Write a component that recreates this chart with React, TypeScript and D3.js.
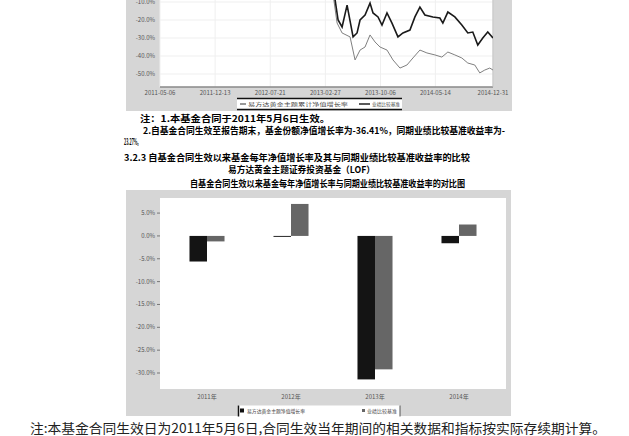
import { useMemo } from 'react';
import * as d3 from 'd3';

// bar chart: yearly net value growth vs benchmark (%)
const barYears = ['2011年', '2012年', '2013年', '2014年'];
const fundReturns = [-5.6, -0.2, -31.4, -1.6];
const benchReturns = [-1.2, 7.0, -29.2, 2.5];
const barTicks = [5, 0, -5, -10, -15, -20, -25, -30];

// line chart: cumulative growth (%)
const upperDates = [
	'2011-05-06', '2011-09-01', '2012-01-01', '2012-09-01', '2013-02-15', '2013-03-30',
	'2013-04-07', '2013-04-19', '2013-05-05', '2013-05-25', '2013-06-18', '2013-07-04',
	'2013-07-16', '2013-08-05', '2013-08-25', '2013-09-06', '2013-09-26', '2013-10-12',
	'2013-11-01', '2013-11-21', '2013-12-15', '2014-01-04', '2014-02-01', '2014-02-21',
	'2014-03-13', '2014-04-02', '2014-05-04', '2014-06-01', '2014-06-13', '2014-07-03',
	'2014-07-31', '2014-08-28', '2014-09-21', '2014-10-11', '2014-10-31', '2014-11-20',
	'2014-12-10', '2014-12-31',
];
const upperValues = [
	0, 6, -2, 3, -4, -5,
	-8.9, -20.0, -23.9, -11.7, -29.4, -27.2,
	-20.0, -17.2, -10.6, -16.1, -18.3, -22.8,
	-16.1, -21.7, -29.4, -27.2, -25.6, -18.3,
	-12.8, -17.2, -18.3, -18.9, -21.7, -15.6,
	-18.3, -22.8, -27.2, -26.7, -33.9, -30.0,
	-26.7, -30.0,
];
const lowerDates = [
	'2011-05-06', '2011-09-01', '2012-01-01', '2012-09-01', '2013-02-15', '2013-04-01',
	'2013-04-15', '2013-05-05', '2013-06-06', '2013-06-26', '2013-07-16', '2013-08-05',
	'2013-08-25', '2013-09-14', '2013-10-04', '2013-11-01', '2013-11-25', '2013-12-23',
	'2014-01-20', '2014-02-13', '2014-03-13', '2014-04-10', '2014-05-12', '2014-06-09',
	'2014-07-03', '2014-07-31', '2014-08-28', '2014-09-21', '2014-10-19', '2014-11-08',
	'2014-11-28', '2014-12-18', '2014-12-31',
];
const lowerValues = [
	0, 4, -6, -3, -7, -8,
	-21.7, -27.2, -29.4, -42.2, -36.7, -35.0,
	-28.3, -32.2, -35.0, -36.7, -42.2, -46.7,
	-45.0, -41.1, -36.7, -38.3, -39.4, -40.6,
	-37.8, -39.4, -41.1, -43.9, -45.0, -49.4,
	-47.8, -46.7, -47.8,
];
const lineTicks = [-10, -20, -30, -40, -50];
const lineDateLabels = ['2011-05-06', '2011-12-13', '2012-07-21', '2013-02-27', '2013-10-06', '2014-05-14', '2014-12-31'];
const lineLegend = ['易方达黄金主题累计净值增长率', '业绩比较基准'];
const barLegend = ['易方达黄金主题净值增长率', '业绩比较基准'];

const textLines = [
	'注：1.本基金合同于2011年5月6日生效。',
	'2.自基金合同生效至报告期末，基金份额净值增长率为-36.41%，同期业绩比较基准收益率为-',
	'23.27%。',
	'3.2.3 自基金合同生效以来基金每年净值增长率及其与同期业绩比较基准收益率的比较',
	'易方达黄金主题证券投资基金（LOF）',
	'自基金合同生效以来基金每年净值增长率与同期业绩比较基准收益率的对比图',
];
const footnote = '注:本基金合同生效日为2011年5月6日,合同生效当年期间的相关数据和指标按实际存续期计算。';

const CJK = '"Noto Sans CJK SC", "Noto Sans", sans-serif';
const PANEL = '#d6d6d6';

export default function App() {
	const parse = d3.timeParse('%Y-%m-%d');

	// top line chart
	const xT = d3.scaleTime()
		.domain([parse('2011-05-06')!, parse('2014-12-31')!])
		.range([160, 493]);
	const yT = d3.scaleLinear().domain([-10, -50]).range([2, 74]);
	const line = d3.line<[Date, number]>()
		.x(d => xT(d[0]))
		.y(d => yT(d[1]));
	const upper = useMemo(() => upperDates.map((d, i) => [parse(d)!, upperValues[i]] as [Date, number]), []);
	const lower = useMemo(() => lowerDates.map((d, i) => [parse(d)!, lowerValues[i]] as [Date, number]), []);

	// bar chart
	const x0 = d3.scaleBand().domain(barYears).range([165, 501]).paddingInner(0.583).paddingOuter(0.2915);
	const x1 = d3.scaleBand().domain(['fund', 'bench']).range([0, x0.bandwidth()]);
	const yB = d3.scaleLinear().domain([-33.5, 8.3]).range([389, 198]);

	const tickFont = { fontFamily: CJK, fontSize: 6, fill: '#555' };
	const legFont = { fontFamily: CJK, fontSize: 5, fill: '#444' };

	return (
		<svg width={629} height={436} style={{ position: 'absolute', left: 0, top: 0, background: '#fff' }}>
			<defs>
				<clipPath id="plotT"><rect x={160} y={-60} width={333} height={147} /></clipPath>
			</defs>

			{/* top chart panel */}
			<rect x={126} y={-20} width={386} height={131} fill={PANEL} />
			<rect x={160} y={-20} width={333} height={107} fill="#fff" />
			{lineTicks.map(t => (
				<g key={t}>
					<line x1={160} x2={493} y1={yT(t)} y2={yT(t)} stroke="#efefef" />
					<text x={155} y={yT(t) + 2} textAnchor="end" {...tickFont}>{`${t.toFixed(1)}%`}</text>
				</g>
			))}
			{lineDateLabels.map(d => (
				<g key={d}>
					<line x1={xT(parse(d)!)} x2={xT(parse(d)!)} y1={-20} y2={87} stroke="#efefef" />
					<text x={xT(parse(d)!)} y={95} textAnchor="middle" {...tickFont}>{d}</text>
				</g>
			))}
			<line x1={160} x2={493} y1={87} y2={87} stroke="#888" strokeWidth={1.5} />
			<line x1={493} x2={493} y1={-20} y2={87} stroke="#bbb" />
			<g clipPath="url(#plotT)">
				<path d={line(lower)!} fill="none" stroke="#808080" strokeWidth={1} />
				<path d={line(upper)!} fill="none" stroke="#1a1a1a" strokeWidth={1.6} />
			</g>
			{/* top legend */}
			<rect x={237} y={98} width={165} height={12} fill="#fff" />
			<line x1={237} x2={402} y1={98.5} y2={98.5} stroke="#111" strokeWidth={1.5} />
			<line x1={237} x2={402} y1={109.5} y2={109.5} stroke="#111" strokeWidth={1.5} />
			<line x1={240} x2={246} y1={104} y2={104} stroke="#333" />
			<text x={248} y={106} {...legFont} textLength={100} lengthAdjust="spacingAndGlyphs">{lineLegend[0]}</text>
			<line x1={359} x2={370} y1={104} y2={104} stroke="#222" strokeWidth={1.5} />
			<text x={372} y={106} {...legFont} textLength={28} lengthAdjust="spacingAndGlyphs">{lineLegend[1]}</text>

			{/* text block */}
			{[
				{ x: 140, y: 121.5, w: 190 },
				{ x: 143, y: 133.5, w: 362 },
				{ x: 124, y: 144.5, w: 17 },
				{ x: 124, y: 160.5, w: 346 },
				{ x: 228, y: 172.5, w: 147 },
				{ x: 190, y: 186.5, w: 275 },
			].map((p, i) => (
				<text key={i} x={p.x} y={p.y} fontFamily={CJK} fontSize={9} fontWeight={700} fill="#000"
					textLength={p.w} lengthAdjust="spacingAndGlyphs">{textLines[i]}</text>
			))}

			{/* bar chart panel */}
			<rect x={126} y={190} width={385} height={226} fill={PANEL} />
			<rect x={160} y={198} width={346} height={191} fill="#fff" />
			{barTicks.map(t => (
				<g key={t}>
					<line x1={157} x2={160} y1={yB(t)} y2={yB(t)} stroke="#777" />
					<text x={155} y={yB(t) + 2} textAnchor="end" {...tickFont}>{`${t.toFixed(1)}%`}</text>
				</g>
			))}
			{barYears.map((yr, i) => (
				<g key={yr} transform={`translate(${x0(yr)},0)`}>
					<rect x={x1('fund')} width={x1.bandwidth()}
						y={yB(Math.max(0, fundReturns[i]))} height={Math.abs(yB(fundReturns[i]) - yB(0))} fill="#141414" />
					<rect x={x1('bench')} width={x1.bandwidth()}
						y={yB(Math.max(0, benchReturns[i]))} height={Math.abs(yB(benchReturns[i]) - yB(0))} fill="#666" />
					<text x={x0.bandwidth() / 2} y={399} textAnchor="middle" {...tickFont}>{yr}</text>
				</g>
			))}
			{/* bar legend */}
			<rect x={238} y={405.5} width={162} height={11} fill="#fff" />
			<line x1={238.5} x2={238.5} y1={405.5} y2={416.5} stroke="#111" strokeWidth={1.5} />
			<line x1={400} x2={400} y1={405.5} y2={416.5} stroke="#555" />
			<rect x={240} y={408.5} width={4} height={4} fill="#111" />
			<text x={247} y={413} {...legFont} textLength={58} lengthAdjust="spacingAndGlyphs">{barLegend[0]}</text>
			<rect x={362} y={409} width={3} height={3} fill="#666" />
			<text x={367} y={413} {...legFont} textLength={30} lengthAdjust="spacingAndGlyphs">{barLegend[1]}</text>

			{/* footnote */}
			<text x={30} y={433} fontFamily={CJK} fontSize={13} fill="#222"
				textLength={576} lengthAdjust="spacingAndGlyphs">{footnote}</text>
		</svg>
	);
}
